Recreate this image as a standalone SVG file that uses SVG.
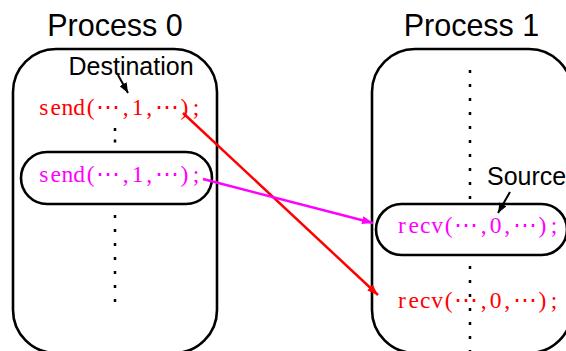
<svg xmlns="http://www.w3.org/2000/svg" width="566" height="351" viewBox="0 0 566 351">
<style>
.title{font-family:"Liberation Sans",Arial,sans-serif;font-size:30.5px;fill:#000}
.label{font-family:"Liberation Sans",Arial,sans-serif;font-size:25px;fill:#000}
.box{fill:#fff;stroke:#000;stroke-width:2.6}
.dots{stroke:#000;stroke-width:2.5;stroke-dasharray:3 11;fill:none}
.code{font-family:"Liberation Serif","DejaVu Serif",serif;font-size:23.5px;text-anchor:middle}
.red{fill:#ff0000}
.mag{fill:#ff00ff}
</style>
<defs>
<marker id="ahBlack" markerUnits="userSpaceOnUse" markerWidth="10" markerHeight="8" refX="10" refY="4" orient="auto"><path d="M0,0 L10,4 L0,8 z" fill="#000"/></marker>
<marker id="ahRed" markerUnits="userSpaceOnUse" markerWidth="11" markerHeight="8" refX="11" refY="4" orient="auto"><path d="M0,0 L11,4 L0,8 z" fill="#ff0000"/></marker>
<marker id="ahMag" markerUnits="userSpaceOnUse" markerWidth="11" markerHeight="8" refX="11" refY="4" orient="auto"><path d="M0,0 L11,4 L0,8 z" fill="#ff00ff"/></marker>
</defs>
<rect width="566" height="351" fill="#fff"/>

<g id="process0">
<text class="title" x="115" y="36" text-anchor="middle">Process 0</text>
<rect class="box" x="13" y="49" width="204" height="304" rx="43" ry="43"/>
<line class="dots" x1="115" y1="128" x2="115" y2="145" style="stroke-dasharray:3 8.5"/>
<line class="dots" x1="115" y1="215" x2="115" y2="303"/>
<text class="code red" x="43.9 55.6 67.3 79 90.7 108.3 125.8 137.5 149.2 166.8 184.4 196.1" y="115">send(⋯,1,⋯);</text>
<rect class="box" x="21" y="152" width="191" height="52" rx="26" ry="26"/>
<text class="code mag" x="43.9 55.6 67.3 79 90.7 108.3 125.8 137.5 149.2 166.8 184.4 196.1" y="182">send(⋯,1,⋯);</text>
<text class="label" x="68.5" y="74.5">Destination</text>
</g>

<g id="process1">
<text class="title" x="471.5" y="36" text-anchor="middle">Process 1</text>
<rect class="box" x="372" y="49" width="200" height="304" rx="43" ry="43"/>
<line class="dots" x1="470" y1="70" x2="470" y2="351"/>
<rect class="box" x="376" y="204" width="191" height="51" rx="25.5" ry="25.5"/>
<text class="code mag" x="401.9 413.6 425.3 437 448.7 466.3 483.8 495.5 507.2 524.8 542.4 554.1" y="233">recv(⋯,0,⋯);</text>
<text class="code red" x="401.9 413.6 425.3 437 448.7 466.3 483.8 495.5 507.2 524.8 542.4 554.1" y="308">recv(⋯,0,⋯);</text>
<text class="label" x="487" y="184.5">Source</text>
</g>

<g id="connectors" fill="none">
<line x1="118" y1="75" x2="128" y2="93" stroke="#000" stroke-width="2" marker-end="url(#ahBlack)"/>
<line x1="510" y1="192" x2="498" y2="213" stroke="#000" stroke-width="2" marker-end="url(#ahBlack)"/>
<line x1="183" y1="113" x2="378" y2="295" stroke="#ff0000" stroke-width="2.5" marker-end="url(#ahRed)"/>
<line x1="203" y1="179" x2="373" y2="223" stroke="#ff00ff" stroke-width="2.5" marker-end="url(#ahMag)"/>
</g>
</svg>
